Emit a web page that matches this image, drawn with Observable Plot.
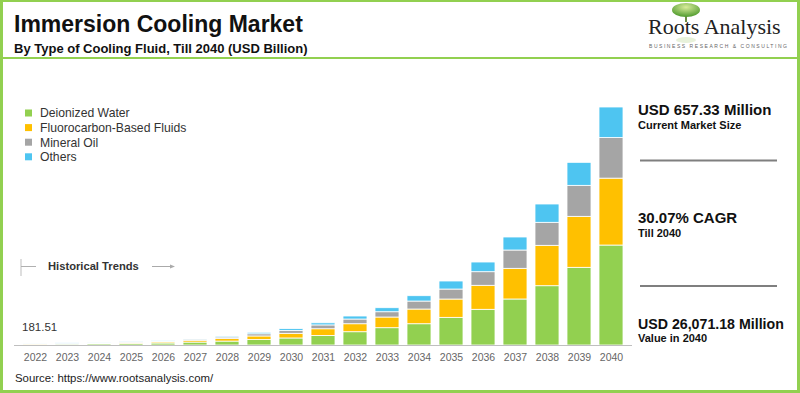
<!DOCTYPE html>
<html>
<head>
<meta charset="utf-8">
<script src="https://cdn.jsdelivr.net/npm/d3@7"></script>
<script src="https://cdn.jsdelivr.net/npm/@observablehq/plot@0.6"></script>
<style>
  html, body { margin: 0; padding: 0; background: #fff; }
  #wrap { position: relative; width: 800px; height: 393px; overflow: hidden; background: #fff; font-family: "Liberation Sans", Arial, sans-serif; }
  #chart { position: absolute; left: 0; top: 0; }
  #overlay { position: absolute; left: 0; top: 0; pointer-events: none; }
  #frame { position: absolute; left: 0; top: 0; width: 800px; height: 393px; box-sizing: border-box; border: 3px solid #92D050; border-top-width: 2px; border-left-width: 3px; pointer-events: none; }
</style>
</head>
<body>
<div id="wrap">
  <div id="chart"></div>
  <svg id="overlay" width="800" height="393"></svg>
  <div id="frame"></div>
</div>
<script>
// ---- Data (USD Million) ----
const years = ["2022","2023","2024","2025","2026","2027","2028","2029","2030","2031","2032","2033","2034","2035","2036","2037","2038","2039","2040"];
const types = ["Deionized Water","Fluorocarbon-Based Fluids","Mineral Oil","Others"];
const colors = ["#92D050","#FFC000","#A5A5A5","#4EC5F1"];
const deionizedWater = [80, 110, 140, 170, 220, 320, 430, 600, 770, 1050, 1455, 1895, 2330, 3030, 3910, 5040, 6495, 8510, 10950];
const fluorocarbon   = [50, 60, 80, 100, 130, 200, 270, 390, 510, 730, 875, 1170, 1610, 2005, 2630, 3360, 4425, 5585, 7330];
const mineralOil     = [30, 35, 45, 60, 80, 120, 170, 240, 310, 420, 515, 580, 875, 1095, 1490, 2005, 2520, 3395, 4440];
const others         = [21.51, 25, 25, 40, 50, 80, 110, 160, 200, 230, 330, 440, 585, 880, 1060, 1425, 2005, 2520, 3351.18];
const firstLabel = "181.51";
const stats = [
  {big: "USD 657.33 Million", small: "Current Market Size"},
  {big: "30.07% CAGR", small: "Till 2040"},
  {big: "USD 26,071.18 Million", small: "Value in 2040"}
];

const series = [deionizedWater, fluorocarbon, mineralOil, others];
const rows = [];
years.forEach((y, i) => {
  types.forEach((t, j) => rows.push({year: y, type: t, value: series[j][i]}));
});
const maxTotal = d3.max(years, (y, i) => d3.sum(series, s => s[i]));

const plot = Plot.plot({
  width: 800,
  height: 393,
  marginLeft: 14,
  marginRight: 168,
  marginTop: 107,
  marginBottom: 48,
  style: {fontFamily: "'Liberation Sans', Arial, sans-serif", fontSize: "10.5px", color: "#666", background: "transparent"},
  x: {domain: years, padding: 0.25, tickSize: 0, tickPadding: 8, label: null},
  y: {domain: [0, maxTotal], axis: null},
  color: {domain: types, range: colors},
  marks: [
    Plot.barY(rows, {x: "year", y: "value", fill: "type", stroke: "#fff", strokeWidth: 0.8, order: null}),
    Plot.ruleY([0], {stroke: "#BFBFBF", strokeWidth: 1.2})
  ]
});
document.getElementById("chart").appendChild(plot);

// ---- Annotations ----
const svg = d3.select("#overlay");
const F = "'Liberation Sans', Arial, sans-serif";

// header
svg.append("text").attr("x", 14).attr("y", 32).attr("font-family", F).attr("font-weight", "bold")
  .attr("font-size", 23).attr("fill", "#111").text("Immersion Cooling Market");
svg.append("text").attr("x", 14).attr("y", 53).attr("font-family", F).attr("font-weight", "bold")
  .attr("font-size", 13).attr("fill", "#111").text("By Type of Cooling Fluid, Till 2040 (USD Billion)");
svg.append("rect").attr("x", 0).attr("y", 57).attr("width", 800).attr("height", 2).attr("fill", "#92D050");

// logo
const defs = svg.append("defs");
const rg = defs.append("radialGradient").attr("id", "leaf").attr("cx", "50%").attr("cy", "30%").attr("r", "70%");
rg.append("stop").attr("offset", "0%").attr("stop-color", "#d8ec9a");
rg.append("stop").attr("offset", "100%").attr("stop-color", "#4e9a2c");
svg.append("line").attr("x1", 686).attr("y1", 12).attr("x2", 686).attr("y2", 22).attr("stroke", "#6b8a44").attr("stroke-width", 2);
svg.append("ellipse").attr("cx", 686).attr("cy", 10).attr("rx", 14).attr("ry", 7).attr("fill", "url(#leaf)");
svg.append("ellipse").attr("cx", 686).attr("cy", 40).attr("rx", 10).attr("ry", 3).attr("fill", "#cfe3b5").attr("opacity", 0.5);
svg.append("text").attr("x", 648).attr("y", 34).attr("font-family", "'Liberation Serif', 'Times New Roman', serif")
  .attr("font-size", 22).attr("fill", "#222").text("Roots Analysis");
svg.append("text").attr("x", 649).attr("y", 48).attr("font-family", F).attr("font-size", 5)
  .attr("letter-spacing", 1.55).attr("fill", "#666").text("BUSINESS RESEARCH & CONSULTING");

// legend
types.forEach((t, i) => {
  const cy = 113 + i * 14.6;
  svg.append("rect").attr("x", 25).attr("y", cy - 3.5).attr("width", 7).attr("height", 7).attr("fill", colors[i]);
  svg.append("text").attr("x", 40).attr("y", cy + 4.3).attr("font-family", F).attr("font-size", 12.2)
    .attr("fill", "#333").text(t);
});

// historical trends
svg.append("line").attr("x1", 21).attr("y1", 259).attr("x2", 21).attr("y2", 276).attr("stroke", "#c8c8c8").attr("stroke-width", 1.2);
svg.append("line").attr("x1", 21).attr("y1", 266.5).attr("x2", 36).attr("y2", 266.5).attr("stroke", "#b0b0b0").attr("stroke-width", 1);
svg.append("text").attr("x", 48).attr("y", 270).attr("font-family", F).attr("font-weight", "bold")
  .attr("font-size", 11.2).attr("fill", "#333").text("Historical Trends");
svg.append("line").attr("x1", 152).attr("y1", 266.5).attr("x2", 172).attr("y2", 266.5).attr("stroke", "#aaa").attr("stroke-width", 1);
svg.append("path").attr("d", "M170,264.5 L175,266.5 L170,268.5 Z").attr("fill", "#aaa");

// first value label
svg.append("text").attr("x", 22).attr("y", 330.5).attr("font-family", F).attr("font-size", 11.5)
  .attr("fill", "#333").text(firstLabel);

// right panel
const bigY = [115, 223, 328.5];
const bigSize = [15, 15, 14.2];
stats.forEach((s, i) => {
  svg.append("text").attr("x", 638).attr("y", bigY[i]).attr("font-family", F).attr("font-weight", "bold")
    .attr("font-size", bigSize[i]).attr("fill", "#111").text(s.big);
  svg.append("text").attr("x", 638).attr("y", bigY[i] + 13.5).attr("font-family", F).attr("font-weight", "bold")
    .attr("font-size", 11).attr("fill", "#111").text(s.small);
});
[160.5, 286].forEach(y => {
  svg.append("line").attr("x1", 640).attr("x2", 777).attr("y1", y).attr("y2", y).attr("stroke", "#7f7f7f").attr("stroke-width", 2);
});

// source
svg.append("text").attr("x", 15).attr("y", 381.5).attr("font-family", F).attr("font-size", 11.4)
  .attr("fill", "#222").text("Source: https://www.rootsanalysis.com/");
</script>
</body>
</html>
